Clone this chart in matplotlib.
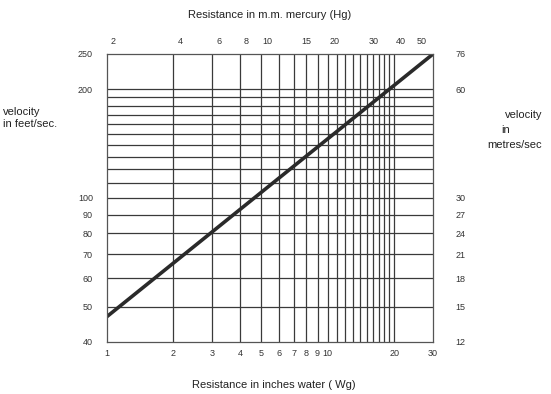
import matplotlib.pyplot as plt
import numpy as np

plt.rcParams['font.family'] = ['Liberation Sans', 'DejaVu Sans']

# pressure in inches water gauge vs air velocity in feet/sec
wg = [1, 30]
velocity = [47, 250]

wg_ticks = [1, 2, 3, 4, 5, 6, 7, 8, 9, 10, 20, 30]
wg_grid = [2, 3, 4, 5, 6, 7, 8, 9, 10, 11, 12, 13, 14, 15, 16, 17, 18, 19, 20]
hg_ticks = [2, 4, 6, 8, 10, 15, 20, 30, 40, 50]
fps_ticks = [40, 50, 60, 70, 80, 90, 100, 200, 250]
fps_grid = [50, 60, 70, 80, 90, 100, 110, 120, 130, 140, 150, 160, 170, 180, 190, 200]
mps_labels = ["12", "15", "18", "21", "24", "27", "30", "60", "76"]

MMHG_PER_INWG = 1.868

fig = plt.figure(figsize=(5.51, 3.94), dpi=100)
ax = fig.add_axes([0.194, 0.132, 0.592, 0.731])
ax.set_xscale('log')
ax.set_yscale('log')
ax.set_xlim(1, 30)
ax.set_ylim(40, 250)

ax.vlines(wg_grid, 40, 250, color='#3a3a3a', lw=0.9)
ax.hlines(fps_grid, 1, 30, color='#3a3a3a', lw=0.9)
ax.plot(wg, velocity, color='#2a2a2a', lw=2.6, solid_capstyle='butt')

for s in ax.spines.values():
    s.set_color('#555555')
    s.set_linewidth(0.9)

ax.minorticks_off()
ax.set_xticks(wg_ticks, [str(t) for t in wg_ticks])
ax.set_yticks(fps_ticks, [str(t) for t in fps_ticks])
ax.tick_params(axis='x', length=0, pad=5, labelsize=6.5, colors='#333333')
ax.tick_params(axis='y', length=0, pad=10, labelsize=6.5, colors='#333333')

top = ax.secondary_xaxis('top', functions=(lambda x: x * MMHG_PER_INWG,
                                           lambda m: m / MMHG_PER_INWG))
top.set_xticks(hg_ticks, [str(t) for t in hg_ticks])
top.minorticks_off()
top.tick_params(length=0, pad=6, labelsize=6.5, colors='#333333')
top.spines['top'].set_visible(False)

right = ax.secondary_yaxis('right')
right.set_yticks(fps_ticks, mps_labels)
right.minorticks_off()
right.tick_params(length=0, pad=16, labelsize=6.5, colors='#333333')
right.spines['right'].set_visible(False)

fig.text(0.49, 0.962, "Resistance in m.m. mercury (Hg)", ha='center', va='center',
         fontsize=8, color='#222222')
fig.text(0.497, 0.023, "Resistance in inches water ( Wg)", ha='center', va='center',
         fontsize=8, color='#222222')
fig.text(0.005, 0.7, "velocity\nin feet/sec.", ha='left', va='center',
         fontsize=8, color='#222222', linespacing=1.3)
fig.text(0.984, 0.708, "velocity", ha='right', va='center', fontsize=8, color='#222222')
fig.text(0.91, 0.67, "in", ha='left', va='center', fontsize=8, color='#222222')
fig.text(0.984, 0.632, "metres/sec", ha='right', va='center', fontsize=8, color='#222222')

fig.savefig('out.png', dpi=100)
